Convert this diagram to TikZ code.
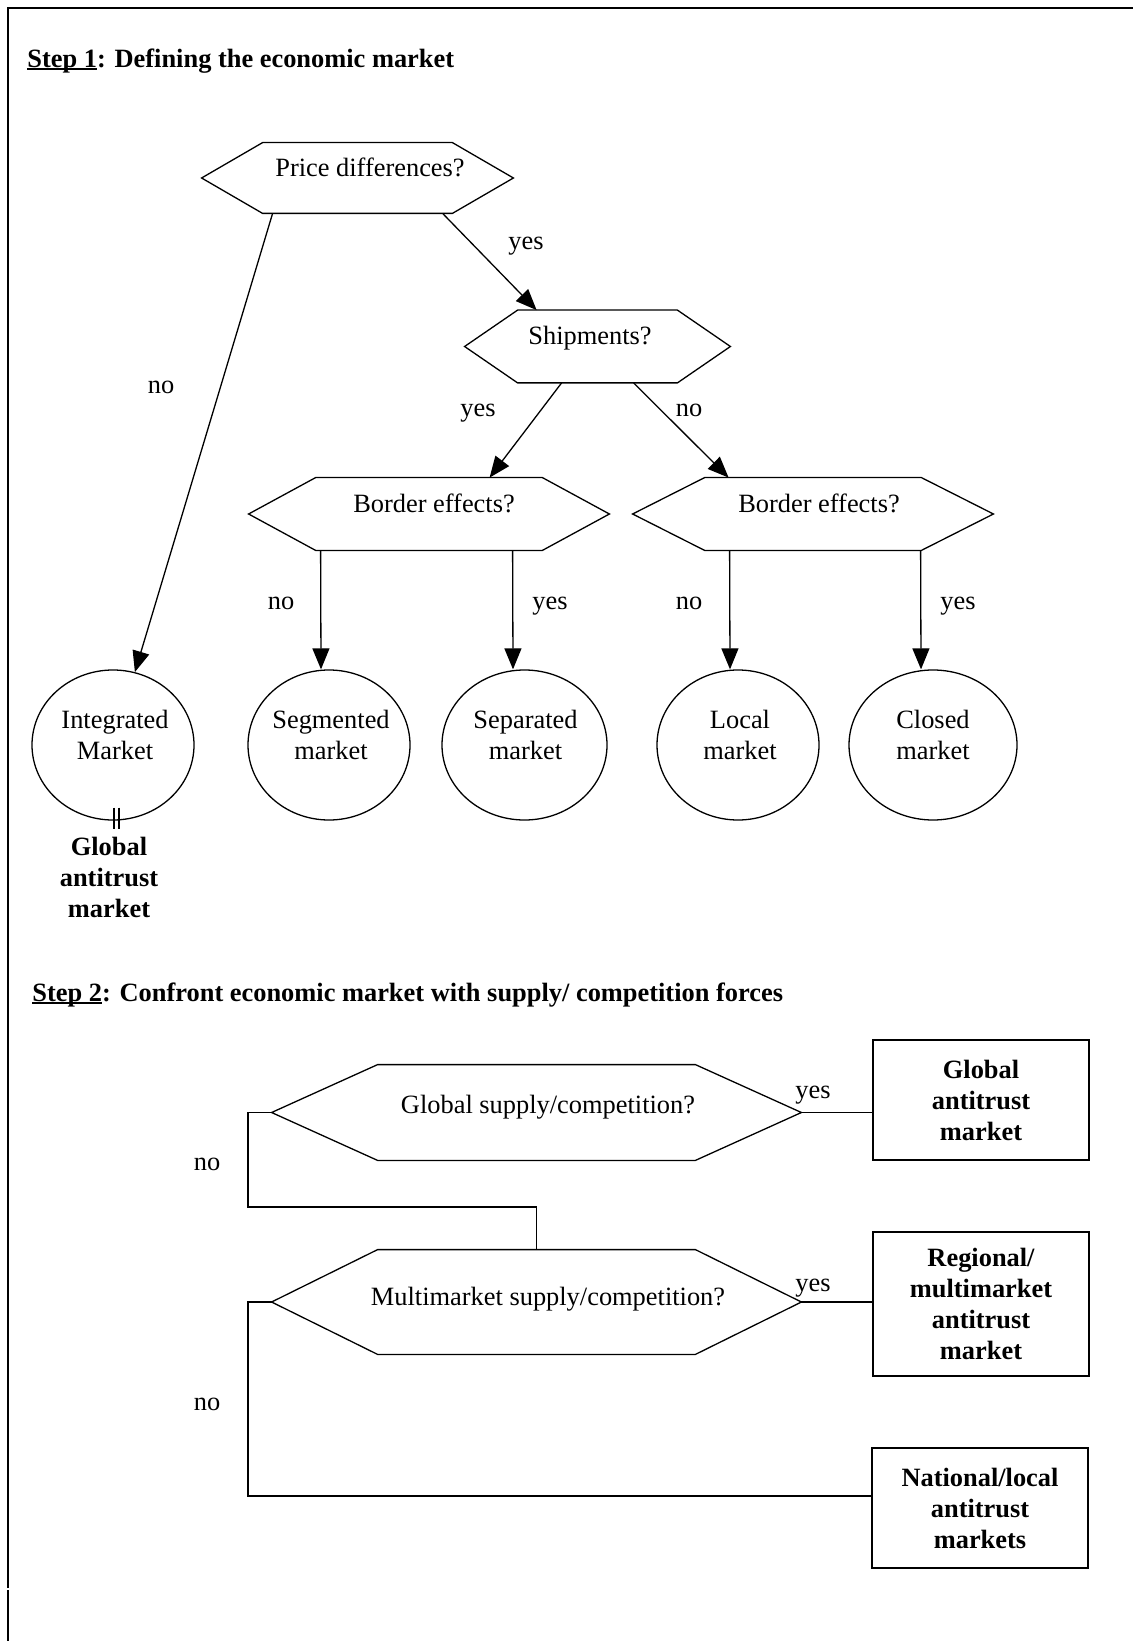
\documentclass[tikz,border=0pt]{standalone}
\usepackage{fontspec}
\setmainfont{Liberation Serif}
\usetikzlibrary{arrows.meta,calc,shapes.geometric}
\newcommand{\hexshape}[2]{\draw[ln,line join=miter] (#1.west) -- ($(#1.north west)+(#2,0)$) -- ($(#1.north east)+(-#2,0)$) -- (#1.east) -- ($(#1.south east)+(-#2,0)$) -- ($(#1.south west)+(#2,0)$) -- cycle;}
\newcommand{\ulin}[1]{\setbox0\hbox{#1}\rlap{\rule[-0.11em]{\wd0}{0.065em}}\box0}
\begin{document}
\begin{tikzpicture}[x=0.5pt,y=-0.5pt,
  every node/.style={font=\fontsize{13.2}{15.5}\selectfont, inner sep=0pt},
  ln/.style={line width=0.65pt},
  arr/.style={ln,-{Triangle[length=10.5pt,width=8.5pt]}},
  hexbox/.style={draw=none, rectangle, inner sep=0pt},
  mkt/.style={draw, ellipse, line width=0.65pt, minimum width=81pt, minimum height=75pt, inner sep=0pt},
  lbl/.style={text height=0.8em, text depth=0.08em},
  res/.style={draw, line width=0.65pt, minimum width=108pt, align=center, font=\fontsize{13.2}{15.5}\selectfont\bfseries},
  ttl/.style={anchor=west, lbl, font=\fontsize{13.2}{15.5}\selectfont\bfseries},
]
\useasboundingbox (0,0) rectangle (1136,1641);
% frame
\draw[line width=1pt] (8,1641) -- (8,1590);
\draw[line width=1pt] (8,1588) -- (8,8) -- (1133,8);

% Step 1
\node[ttl] (t1) at (27,60) {\ulin{Step 1}: Defining the economic market};

\node[hexbox, minimum width=155.5pt, minimum height=35pt] (pd) at (357.5,178) {};
\hexshape{pd}{61}
\node[lbl] (pdt) at (370,169) {Price differences?};

\node[hexbox, minimum width=132.5pt, minimum height=36pt] (ship) at (597.5,346.5) {};
\hexshape{ship}{53}
\node[lbl] (shipt) at (590,337) {Shipments?};

\node[hexbox, minimum width=180pt, minimum height=36pt] (be1) at (429,514) {};
\hexshape{be1}{67}
\node[lbl] (be1t) at (434,505) {Border effects?};

\node[hexbox, minimum width=180pt, minimum height=36pt] (be2) at (813,514) {};
\hexshape{be2}{72}
\node[lbl] (be2t) at (819,505) {Border effects?};

\node[mkt] (integ) at (113,745) {};
\node[align=center] (integt) at ($(integ)+(2,-10)$) {Integrated\\Market};
\node[mkt] (seg) at (329,745) {};
\node[align=center] (segt) at ($(seg)+(2,-10)$) {Segmented\\market};
\node[mkt, minimum width=82.5pt] (sep) at (524.5,745) {};
\node[align=center] (sept) at ($(sep)+(1,-10)$) {Separated\\market};
\node[mkt] (loc) at (738,745) {};
\node[align=center] (loct) at ($(loc)+(2,-10)$) {Local\\market};
\node[mkt, minimum width=84pt] (clo) at (933,745) {};
\node[align=center] (clot) at ($(clo)+(0,-10)$) {Closed\\market};

\draw[ln] ($(integ.south)+(1,-13)$) -- ++(0,21);
\draw[ln] ($(integ.south)+(6,-13)$) -- ++(0,21);
\node[align=center, font=\fontsize{13.2}{15.5}\selectfont\bfseries] (glob0) at (109,877) {Global\\antitrust\\market};

\draw[arr] ($(pd.south west)+(71,0)$) -- (integ);
\draw[arr] ($(pd.south west)+(241,0)$) -- ($(ship.north west)+(72,0)$);
\draw[arr] ($(ship.south west)+(97,0)$) -- ($(be1.north west)+(241,0)$);
\draw[arr] ($(ship.south west)+(169,0)$) -- ($(be2.north west)+(96,0)$);
\draw[arr] ($(be1.south west)+(72,0)$) -- ($(seg.north)+(-8,0)$);
\draw[arr] ($(be1.south west)+(264,0)$) -- ($(sep.north)+(-11.5,0)$);
\draw[arr] ($(be2.south west)+(97,0)$) -- ($(loc.north)+(-8,0)$);
\draw[arr] ($(be2.south west)+(288,0)$) -- ($(clo.north)+(-12,0)$);

\node[lbl] (l1) at (526,242) {yes};
\node[lbl] (l2) at (161,386) {no};
\node[lbl] (l3) at (478,409) {yes};
\node[lbl] (l4) at (689,409) {no};
\node[lbl] (l5) at (281,602) {no};
\node[lbl] (l6) at (550,602) {yes};
\node[lbl] (l7) at (689,602) {no};
\node[lbl] (l8) at (958,602) {yes};

% Step 2
\node[ttl] (t2) at (32,994) {\ulin{Step 2}: Confront economic market with supply/ competition forces};

\node[hexbox, minimum width=264.5pt, minimum height=47.5pt] (gs) at (536.5,1112.5) {};
\hexshape{gs}{106}
\node[lbl] (gst) at (548,1106) {Global supply/competition?};

\node[hexbox, minimum width=264.5pt, minimum height=52pt] (ms) at (536.5,1302) {};
\hexshape{ms}{106}
\node[lbl] (mst) at (548,1298) {Multimarket supply/competition?};

\node[res, minimum height=60pt] (gbox) at (981,1100) {Global\\antitrust\\market};
\node[res, minimum height=72pt] (rbox) at (981,1304) {Regional/\\multimarket\\antitrust\\market};
\node[res, minimum height=60pt] (nbox) at (980,1508) {National/local\\antitrust\\markets};

\coordinate (j1) at (248,1207);
\coordinate (j2) at (248,1496);
\draw[ln] (gs.west) -| (j1) -| (ms.north);
\draw[ln] (gs.east) -- (gs.east -| gbox.west);
\draw[ln] (ms.east) -- (ms.east -| rbox.west);
\draw[ln] (ms.west) -| (j2) -- (j2 -| nbox.west);

\node[lbl] (l9) at (207,1163) {no};
\node[lbl] (l10) at (813,1091) {yes};
\node[lbl] (l11) at (813,1284) {yes};
\node[lbl] (l12) at (207,1403) {no};
\end{tikzpicture}
\end{document}
